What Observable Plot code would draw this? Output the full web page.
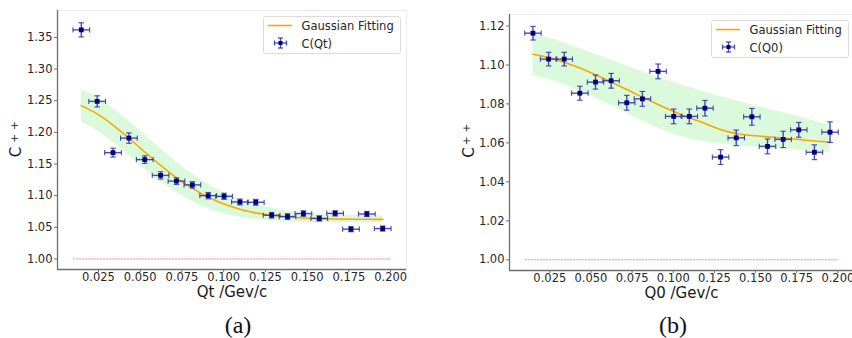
<!DOCTYPE html>
<html><head><meta charset="utf-8">
<script src="https://cdn.jsdelivr.net/npm/d3@7"></script>
<script src="https://cdn.jsdelivr.net/npm/@observablehq/plot@0.6"></script>
<style>
body{margin:0;background:#fff;}
#wrap{position:relative;width:852px;height:338px;overflow:hidden;font-family:"DejaVu Sans",sans-serif;background:#fff;}
.panel{position:absolute;top:0;}
.cap{position:absolute;font-family:"Liberation Serif",serif;font-size:24px;color:#111;text-align:center;width:100px;line-height:28px;}
.leg{position:absolute;}
</style></head>
<body><div id="wrap"></div>
<script>
// ---- shared x positions (bin centres, GeV/c) ----
const qBins = [0.01475, 0.02425, 0.03375, 0.04325, 0.05275, 0.06225, 0.07175, 0.08125, 0.09075, 0.10025,
               0.10975, 0.11925, 0.12875, 0.13825, 0.14775, 0.15725, 0.16675, 0.17625, 0.18575, 0.19525];
const qErr = [0.005,0.005,0.005,0.005,0.005,0.005,0.005,0.005,0.005,0.005,0.005,0.005,0.005,0.005,0.005,0.005,0.005,0.005,0.005,0.005];
const xTicks = [0.025, 0.05, 0.075, 0.1, 0.125, 0.15, 0.175, 0.2];
const refX = [0.01, 0.2];
const refY = [1, 1];

// ---- panel (a) C(Qt) ----
const cQt    = [1.362, 1.249, 1.168, 1.191, 1.157, 1.132, 1.123, 1.117, 1.100, 1.099,
                1.090, 1.0895, 1.069, 1.067, 1.0717, 1.064, 1.072, 1.047, 1.071, 1.048];
const cQtErr = [0.0112, 0.0088, 0.007, 0.0082, 0.006, 0.0058, 0.0052, 0.005, 0.005, 0.0048,
                0.0046, 0.0046, 0.0044, 0.0044, 0.0044, 0.0042, 0.0042, 0.004, 0.004, 0.004];
const fitQt  = [1.2423, 1.2292, 1.2115, 1.1908, 1.169, 1.1478, 1.1282, 1.1114, 1.0975, 1.0867,
                1.0786, 1.0728, 1.0689, 1.0663, 1.0647, 1.0637, 1.0631, 1.0628, 1.0626, 1.0625];
const upQt   = [1.2674, 1.2550, 1.2381, 1.2179, 1.1961, 1.1741, 1.1532, 1.1343, 1.118, 1.1046,
                1.0939, 1.0858, 1.0799, 1.0757, 1.0728, 1.0709, 1.0697, 1.069, 1.0685, 1.0683];
const loQt   = [1.2163, 1.2026, 1.1843, 1.1634, 1.1422, 1.1223, 1.1049, 1.0906, 1.0795, 1.0715,
                1.0659, 1.0622, 1.0599, 1.0586, 1.0578, 1.0574, 1.0572, 1.0571, 1.057, 1.057];
const yTicksA = [1.00, 1.05, 1.10, 1.15, 1.20, 1.25, 1.30, 1.35];

// ---- panel (b) C(Q0) ----
const cQ0    = [1.1163, 1.103, 1.103, 1.0855, 1.0912, 1.0919, 1.0806, 1.0826, 1.0967, 1.0736,
                1.0736, 1.0778, 1.0527, 1.0626, 1.0734, 1.0582, 1.0618, 1.0667, 1.0552, 1.0655];
const cQ0Err = [0.0035, 0.0035, 0.0035, 0.0036, 0.0036, 0.0038, 0.0038, 0.0038, 0.0038, 0.0038,
                0.0038, 0.004, 0.0038, 0.004, 0.0043, 0.0038, 0.0042, 0.0038, 0.0038, 0.0053];
const fitQ0  = [1.1055, 1.1038, 1.1014, 1.0984, 1.095, 1.0913, 1.0874, 1.0835, 1.0797, 1.0761,
                1.0729, 1.07, 1.0669, 1.0648, 1.0638, 1.0631, 1.0625, 1.0617, 1.061, 1.0604];
const upQ0   = [1.116, 1.1138, 1.1113, 1.1085, 1.1055, 1.1025, 1.0995, 1.0965, 1.0937, 1.091,
                1.0885, 1.0861, 1.0838, 1.0816, 1.0795, 1.0775, 1.0755, 1.0735, 1.0712, 1.0689];
const loQ0   = [1.0946, 1.0925, 1.0898, 1.0866, 1.083, 1.0792, 1.0752, 1.0712, 1.0675, 1.0643,
                1.0622, 1.0605, 1.0595, 1.0587, 1.058, 1.0573, 1.0567, 1.0562, 1.0557, 1.0552];
const yTicksB = [1.00, 1.02, 1.04, 1.06, 1.08, 1.10, 1.12];

const NAVY = "#00007a", BAR = "#2b2ba6";
const hcap = {draw(ctx, size){ const r = Math.sqrt(size/Math.PI); ctx.moveTo(-r,0); ctx.lineTo(r,0); }};
const vcap = {draw(ctx, size){ const r = Math.sqrt(size/Math.PI); ctx.moveTo(0,-r); ctx.lineTo(0,r); }};

function panel(o){
  const pts = qBins.map((x,i)=>({x, y:o.c[i], ex:qErr[i], ey:o.err[i]}));
  const cur = qBins.map((x,i)=>({x, f:o.fit[i], u:o.up[i], l:o.lo[i]}));
  const ref = refX.map((x,i)=>({x, y:refY[i]}));
  return Plot.plot({
    width:o.width, height:305,
    marginLeft:o.ml, marginRight:o.mr, marginTop:o.mt, marginBottom:o.mb,
    style:{fontFamily:"DejaVu Sans, sans-serif", fontSize:"11.5px", color:"#262626", background:"transparent", overflow:"visible"},
    x:{domain:[0.0005,0.2095]},
    y:{domain:o.ydom},
    marks:[
      Plot.frame({stroke:"#ebebeb"}),
      Plot.areaY(cur,{x:"x", y1:"l", y2:"u", fill:"#90ee90", fillOpacity:0.32, curve:"natural"}),
      Plot.line(ref,{x:"x", y:"y", stroke:"#ff5a5a", strokeOpacity:0.7, strokeWidth:0.9, strokeDasharray:"1.6,1.4"}),
      Plot.line(cur,{x:"x", y:"f", stroke:"#ffa500", strokeWidth:1.6, curve:"natural"}),
      Plot.link(pts,{x1:d=>d.x-d.ex, x2:d=>d.x+d.ex, y1:"y", y2:"y", stroke:BAR, strokeWidth:1.4, strokeOpacity:0.85}),
      Plot.link(pts,{x1:"x", x2:"x", y1:d=>d.y-d.ey, y2:d=>d.y+d.ey, stroke:BAR, strokeWidth:1.4, strokeOpacity:0.85}),
      Plot.dot(pts,{x:d=>d.x-d.ex, y:"y", symbol:vcap, r:2.6, stroke:BAR, strokeWidth:1.1, strokeOpacity:0.85}),
      Plot.dot(pts,{x:d=>d.x+d.ex, y:"y", symbol:vcap, r:2.6, stroke:BAR, strokeWidth:1.1, strokeOpacity:0.85}),
      Plot.dot(pts,{x:"x", y:d=>d.y-d.ey, symbol:hcap, r:2.8, stroke:BAR, strokeWidth:1.1, strokeOpacity:0.85}),
      Plot.dot(pts,{x:"x", y:d=>d.y+d.ey, symbol:hcap, r:2.8, stroke:BAR, strokeWidth:1.1, strokeOpacity:0.85}),
      Plot.dot(pts,{x:"x", y:"y", symbol:"square", r:2.7, fill:NAVY, stroke:null}),
      Plot.ruleX([0.0005],{stroke:"#6e6e6e", strokeWidth:1.3}),
      Plot.ruleY([o.ydom[0]],{stroke:"#6e6e6e", strokeWidth:1.3}),
      Plot.axisX({ticks:xTicks, tickFormat:".3f", tickSize:3, tickPadding:0, stroke:"#6e6e6e", label:null}),
      Plot.axisY({ticks:o.yticks, tickFormat:".2f", tickSize:3, tickPadding:2, stroke:"#6e6e6e", label:null}),
      Plot.text([o.xlabel],{frameAnchor:"bottom", lineAnchor:"middle", dy:23, fontSize:15, fill:"#1a1a1a"}),
      Plot.text(["C"],{frameAnchor:"left", lineAnchor:"middle", textAnchor:"middle", dx:o.cdx, dy:o.cdy, rotate:-90, fontSize:15, fill:"#1a1a1a"}),
      Plot.text(["+ +"],{frameAnchor:"left", lineAnchor:"middle", textAnchor:"middle", dx:o.pdx, dy:o.pdy, rotate:-90, fontSize:11, fill:"#1a1a1a"})
    ]
  });
}

const wrap = document.getElementById("wrap");
const pa = panel({c:cQt, err:cQtErr, fit:fitQt, up:upQt, lo:loQt, ydom:[0.9833,1.3926], yticks:yTicksA,
  xlabel:"Qt /Gev/c", width:420, ml:57, mr:14, mt:10, mb:36, cdx:-41, cdy:12, pdx:-43, pdy:-8});
pa.classList.add("panel"); pa.style.left="0px"; wrap.appendChild(pa);
const pb = panel({c:cQ0, err:cQ0Err, fit:fitQ0, up:upQ0, lo:loQ0, ydom:[0.9945,1.1259], yticks:yTicksB,
  xlabel:"Q0 /Gev/c", width:430, ml:79, mr:7, mt:14, mb:35, cdx:-40, cdy:10, pdx:-43, pdy:-8});
pb.classList.add("panel"); pb.style.left="430px"; wrap.appendChild(pb);

function legend(left, top, w, h, name){
  const d = document.createElement("div");
  d.className = "leg";
  d.style.left = left+"px"; d.style.top = top+"px";
  d.innerHTML = `<svg width="${w}" height="${h}" style="display:block;font-family:'DejaVu Sans',sans-serif;font-size:11.5px">
    <rect x="0.5" y="0.5" width="${w-1}" height="${h-1}" rx="2.5" fill="#fff" fill-opacity="0.85" stroke="#dcdcdc"/>
    <line x1="5" x2="29" y1="9.5" y2="9.5" stroke="#ffa500" stroke-width="1.6"/>
    <text x="38.5" y="13.5" fill="#262626">Gaussian Fitting</text>
    <g stroke="${BAR}" stroke-width="1.3" stroke-opacity="0.85">
      <line x1="11.5" x2="23.5" y1="27" y2="27"/><line x1="17.5" x2="17.5" y1="22" y2="32"/>
      <line x1="11.5" x2="11.5" y1="24.5" y2="29.5"/><line x1="23.5" x2="23.5" y1="24.5" y2="29.5"/>
      <line x1="15" x2="20" y1="22" y2="22"/><line x1="15" x2="20" y1="32" y2="32"/>
    </g>
    <rect x="15.5" y="25" width="4" height="4" fill="${NAVY}"/>
    <text x="38.5" y="31.5" fill="#262626">${name}</text>
  </svg>`;
  wrap.appendChild(d);
}
legend(263, 16, 138, 38, "C(Qt)");
legend(711, 20, 138, 38, "C(Q0)");

function cap(txt, cx){
  const d = document.createElement("div");
  d.className = "cap"; d.textContent = txt;
  d.style.left = (cx-50)+"px"; d.style.top = "311px";
  wrap.appendChild(d);
}
cap("(a)", 238);
cap("(b)", 673);
</script>
</body></html>
